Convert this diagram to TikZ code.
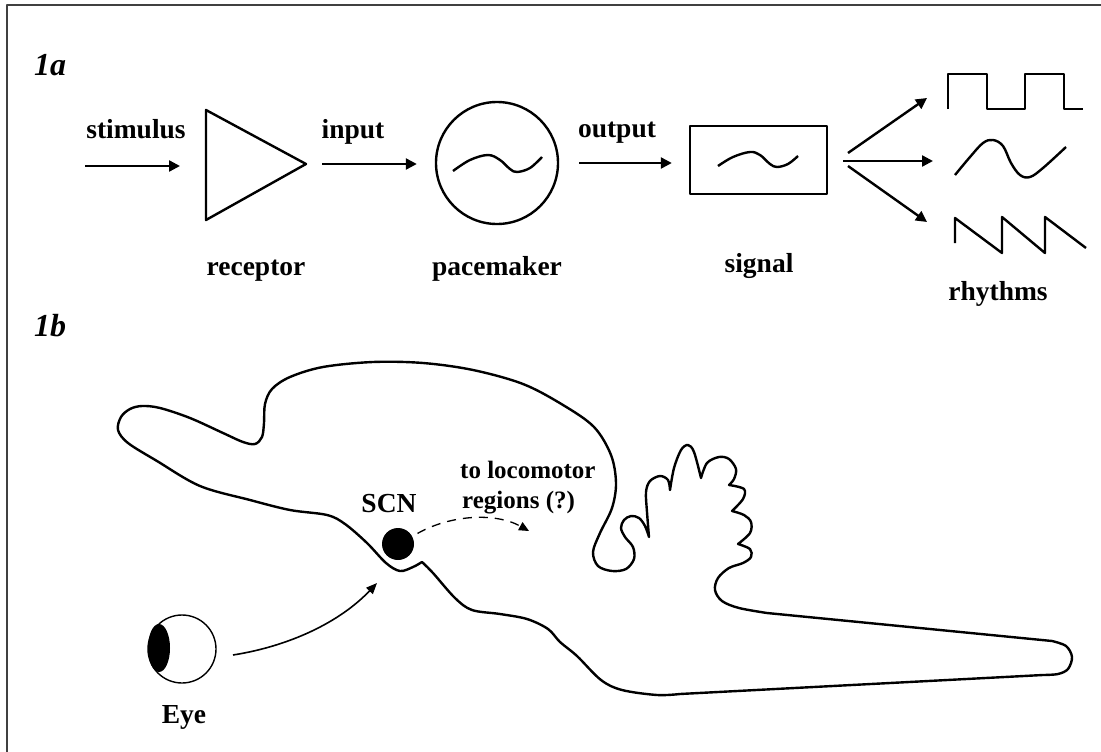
\documentclass[tikz,border=0pt]{standalone}
\usepackage{fontspec}
\setmainfont{Liberation Serif}
\usetikzlibrary{arrows.meta}
\begin{document}
\begin{tikzpicture}[x=1pt,y=-1pt,
  line join=round,
  lbl/.style={font=\fontsize{27.5}{30}\selectfont\bfseries, inner sep=0pt, anchor=base},
  note/.style={font=\fontsize{25}{28}\selectfont\bfseries, inner sep=0pt, anchor=base west},
  panel/.style={font=\fontsize{32}{34}\selectfont\bfseries\itshape, inner sep=0pt, anchor=base west},
  thick line/.style={line width=2.4pt},
  arr/.style={line width=2.4pt, -{Triangle[length=11pt,width=11pt]}},
  thinarr/.style={line width=1.6pt, -{Triangle[length=11pt,width=9pt]}},
  dasharr/.style={line width=1.3pt, dash pattern=on 9pt off 7pt, -{Triangle[length=10pt,width=9pt]}},
]
\useasboundingbox (0,0) rectangle (1101,752);
% frame
\draw[line width=2pt, black!75] (7,752) -- (7,5) -- (1101,5);

% ---------------- panel 1a ----------------
\node[panel] (lab1a) at (34,76) {1a};

% receptor (triangle)
\coordinate (trT) at (206,110);
\coordinate (trB) at (206,220);
\coordinate (trTip) at (306,164);
\draw[thick line] (trT) -- (trTip) -- (trB) -- cycle;

% pacemaker (circle) and signal (box)
\node[draw, circle, line width=2.4pt, minimum size=122pt, inner sep=0pt] (pm) at (497,163) {};
\node[draw, rectangle, line width=2.4pt, minimum width=137pt, minimum height=68pt, inner sep=0pt] (sig) at (758.5,160) {};

% waves inside
\draw[thick line] plot[smooth, tension=0.6] coordinates {(453,171) (470,160) (488,155) (500,160) (510,169) (517,172) (530,168) (542,157)};
\draw[thick line] plot[smooth, tension=0.6] coordinates {(718,166) (733,157) (750,152) (760,155) (770,164) (777,167) (788,164) (798,156)};

% connectors
\coordinate (s0) at (85,166);
\coordinate (s1) at (180,166);
\draw[arr] (s0) -- (s1);
\draw[arr, shorten <=16pt, shorten >=18pt] (trTip) -- (trTip -| pm.west);
\draw[arr, shorten <=20pt, shorten >=17pt] (pm.east) -- (pm.east -| sig.west);

\coordinate (fa0) at (848,153); \coordinate (fa1) at (927,98);
\coordinate (fb0) at (843,161); \coordinate (fb1) at (933,161);
\coordinate (fc0) at (848,166); \coordinate (fc1) at (927,222);
\draw[arr] (fa0) -- (fa1);
\draw[arr] (fb0) -- (fb1);
\draw[arr] (fc0) -- (fc1);

% rhythms
\draw[thick line] (948,109) -- (948,74) -- (987,74) -- (987,109) -- (1025,109) -- (1025,74) -- (1064,74) -- (1064,109) -- (1083,109);
\draw[thick line] plot[smooth, tension=0.6] coordinates {(955,175) (970,157) (983,143) (993,140) (1003,146) (1011,163) (1020,175) (1030,177) (1043,168) (1066,147)};
\draw[thick line] (955,243) -- (955,218) -- (1002,253) -- (1002,217) -- (1045,253) -- (1045,217) -- (1086,248);

% labels
\node[lbl] (tStim) at (136,139) {stimulus};
\node[lbl] (tIn) at (353,138) {input};
\node[lbl] (tOut) at (617,137) {output};
\node[lbl] (tRec) at (256,275) {receptor};
\node[lbl] (tPace) at (497,275) {pacemaker};
\node[lbl] (tSig) at (759,272) {signal};
\node[lbl] (tRhy) at (998,300) {rhythms};

% ---------------- panel 1b ----------------
\node[panel] (lab1b) at (34,336) {1b};

% brain outline
\draw[thick line]
  plot[smooth, tension=0.55] coordinates {(649,537) (647,512) (646,492) (650,481) (660,476) (668,480) (670,490)}
  -- plot[smooth, tension=0.55] coordinates {(670,490) (674,468) (681,450) (688,445) (694,452) (701,478)}
  -- plot[smooth, tension=0.55] coordinates {(701,478) (707,463) (719,457) (729,459) (736,469) (734,479) (729,485)}
  -- plot[smooth, tension=0.55] coordinates {(729,485) (744,489) (743,499) (732,511)}
  -- plot[smooth, tension=0.55] coordinates {(732,511) (744,515) (751,522) (750,533) (738,544)}
  -- plot[smooth, tension=0.55] coordinates {(738,544) (750,549) (751,557) (743,563) (729,568) (718,578) (715,590) (722,601) (739,608) (767,613)}
  -- (1052,641)
  -- plot[smooth, tension=0.55] coordinates {(1052,641) (1066,646) (1072,657) (1068,669) (1058,674) (1043,675)}
  -- (680,694)
  -- plot[smooth, tension=0.55] coordinates {(680,694) (657,695) (622,690) (601,680) (577,656) (560,642) (548,629) (527,619) (500,614) (472,610) (455,598) (433,573) (422,562)}
  -- plot[smooth, tension=0.55] coordinates {(422,562) (413,567) (400,571) (386,563) (367,543) (345,524) (327,515) (290,510) (250,500) (200,486) (157,461) (128,443) (118,430) (121,417) (130,409) (142,406) (160,408) (190,418) (223,433) (243,442) (255,444) (262,437) (264,423) (265,404) (272,389) (290,377) (323,367) (373,362) (423,363) (473,370) (523,384) (563,405) (594,427) (611,455) (616,483) (612,508) (600,533) (593,552) (598,566) (612,571) (626,569) (634,559) (633,547) (625,537) (621,528) (624,520) (631,516) (639,518) (645,526) (649,537)}
  -- cycle;

% SCN and eye
\node[circle, fill, minimum size=32pt, inner sep=0pt] (scn) at (398,544) {};
\node[draw, circle, line width=1.4pt, minimum size=68pt, inner sep=0pt] (eye) at (182,649) {};
\fill (159,648) ellipse [x radius=11, y radius=24];

% pathways
\coordinate (ea0) at (233,655);
\coordinate (ea1) at (377,583);
\draw[thinarr] (ea0) .. controls (290,646) and (340,622) .. (ea1);
\coordinate (da1) at (529,531);
\draw[dasharr, shorten <=6pt] (scn.28) .. controls (450,515) and (495,512) .. (da1);

% labels
\node[lbl] (tSCN) at (389,512) {SCN};
\node[note] (tLoc1) at (460,478) {to locomotor};
\node[note] (tLoc2) at (462,508) {regions (?)};
\node[lbl] (tEye) at (184,723) {Eye};
\end{tikzpicture}
\end{document}
